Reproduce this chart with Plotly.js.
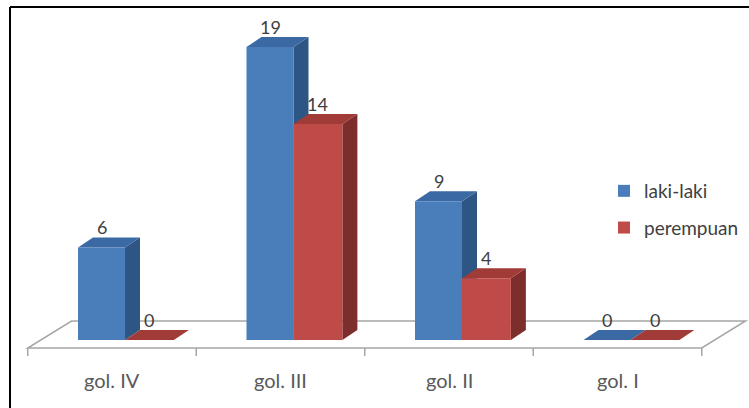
<!DOCTYPE html>
<html>
<head>
<meta charset="utf-8">
<script src="https://cdn.plot.ly/plotly-3.0.1.min.js"></script>
<style>html,body{margin:0;padding:0;background:#fff;}#chart{width:749px;height:408px;}</style>
</head>
<body>
<div id="chart"></div>
<script>
// ---- data ----
const categories = ['gol. IV', 'gol. III', 'gol. II', 'gol. I'];
const seriesNames = ['laki-laki', 'perempuan'];
const lakiLaki = [6, 19, 9, 0];
const perempuan = [0, 14, 4, 0];

// ---- geometry / style (not data) ----
const W = 749, H = 408;
const pxPerCat = 168.5, cat0Px = 112;      // x mapping
const basePx = 340, pxPerUnit = 15.42;     // y mapping
const xRange = [-cat0Px / pxPerCat, (W - cat0Px) / pxPerCat];
const yRange = [-(H - basePx) / pxPerUnit, basePx / pxPerUnit];
const depthX = 15 / pxPerCat, depthY = 10 / pxPerUnit;
const FONT = 'Lato, "Open Sans", sans-serif';

const series = [
  {name: seriesNames[0], values: lakiLaki, offset: -0.2018, width: 0.279,
   front: '#4A7EBB', side: '#2E5684', top: '#3B69A3'},
  {name: seriesNames[1], values: perempuan, offset: 0.0772, width: 0.29,
   front: '#BE4B48', side: '#7D2D2B', top: '#A13B38'}
];
const xIdx = categories.map((c, i) => i);

// floor
const floorFront = -8 / pxPerUnit, floorBack = 19 / pxPerUnit;
const floorLeft = -0.5, floorRight = categories.length - 0.5, floorDX = 0.26;
const shapes = [];
shapes.push({type: 'path', xref: 'x', yref: 'y', layer: 'below',
  path: `M${floorLeft},${floorFront} L${floorRight},${floorFront} L${floorRight + floorDX},${floorBack} L${floorLeft + floorDX},${floorBack} Z`,
  line: {color: '#A6A6A6', width: 1.5}, fillcolor: 'rgba(255,255,255,0)'});
for (let k = 0; k <= categories.length; k++) {
  const xt = k - 0.5;
  shapes.push({type: 'line', xref: 'x', yref: 'y', layer: 'below',
    x0: xt, x1: xt, y0: floorFront, y1: floorFront - 8 / pxPerUnit,
    line: {color: '#A6A6A6', width: 1.5}});
}

const traces = [];
const annotations = [];
series.forEach((s, si) => {
  traces.push({
    type: 'bar', name: s.name, x: xIdx, y: s.values,
    offset: s.offset, width: s.width,
    marker: {color: s.front, line: {width: 0}},
    legendgroup: 'g' + si, hoverinfo: 'skip'
  });
  s.values.forEach((v, i) => {
    const x0 = i + s.offset, x1 = x0 + s.width;
    if (v > 0) {
      shapes.push({type: 'path', xref: 'x', yref: 'y', layer: 'below',
        path: `M${x1},0 L${x1 + depthX},${depthY} L${x1 + depthX},${v + depthY} L${x1},${v} Z`,
        fillcolor: s.side, line: {width: 0}});
    }
    shapes.push({type: 'path', xref: 'x', yref: 'y', layer: 'below',
      path: `M${x0},${v} L${x1},${v} L${x1 + depthX},${v + depthY} L${x0 + depthX},${v + depthY} Z`,
      fillcolor: s.top, line: {width: 0}});
    annotations.push({x: x0 + s.width / 2, y: v + depthY, xref: 'x', yref: 'y',
      text: String(v), showarrow: false, yanchor: 'bottom', yshift: -3,
      font: {family: FONT, size: 18, color: '#404040'}});
  });
});

categories.forEach((c, i) => {
  annotations.push({x: i, y: -(380 - basePx) / pxPerUnit, xref: 'x', yref: 'y',
    text: c, showarrow: false, yanchor: 'middle',
    font: {family: FONT, size: 20, color: '#595959'}});
});

// frame
shapes.push({type: 'line', xref: 'paper', yref: 'paper', layer: 'above',
  x0: 10 / W, x1: 1, y0: 1 - 7 / H, y1: 1 - 7 / H, line: {color: '#000', width: 2}});
shapes.push({type: 'line', xref: 'paper', yref: 'paper', layer: 'above',
  x0: 10 / W, x1: 10 / W, y0: 1 - 7 / H, y1: 0, line: {color: '#000', width: 2}});

const layout = {
  width: W, height: H,
  margin: {l: 0, r: 0, t: 0, b: 0},
  paper_bgcolor: '#fff', plot_bgcolor: '#fff',
  barmode: 'overlay',
  xaxis: {range: xRange, visible: false, fixedrange: true},
  yaxis: {range: yRange, visible: false, fixedrange: true},
  showlegend: true,
  legend: {x: 604 / W, y: 1 - 172 / H, xanchor: 'left', yanchor: 'top',
    font: {family: FONT, size: 19, color: '#404040'},
    tracegroupgap: 9, bgcolor: 'rgba(0,0,0,0)', traceorder: 'grouped'},
  shapes: shapes,
  annotations: annotations
};

Plotly.newPlot('chart', traces, layout, {displayModeBar: false, staticPlot: true});
</script>
</body>
</html>
